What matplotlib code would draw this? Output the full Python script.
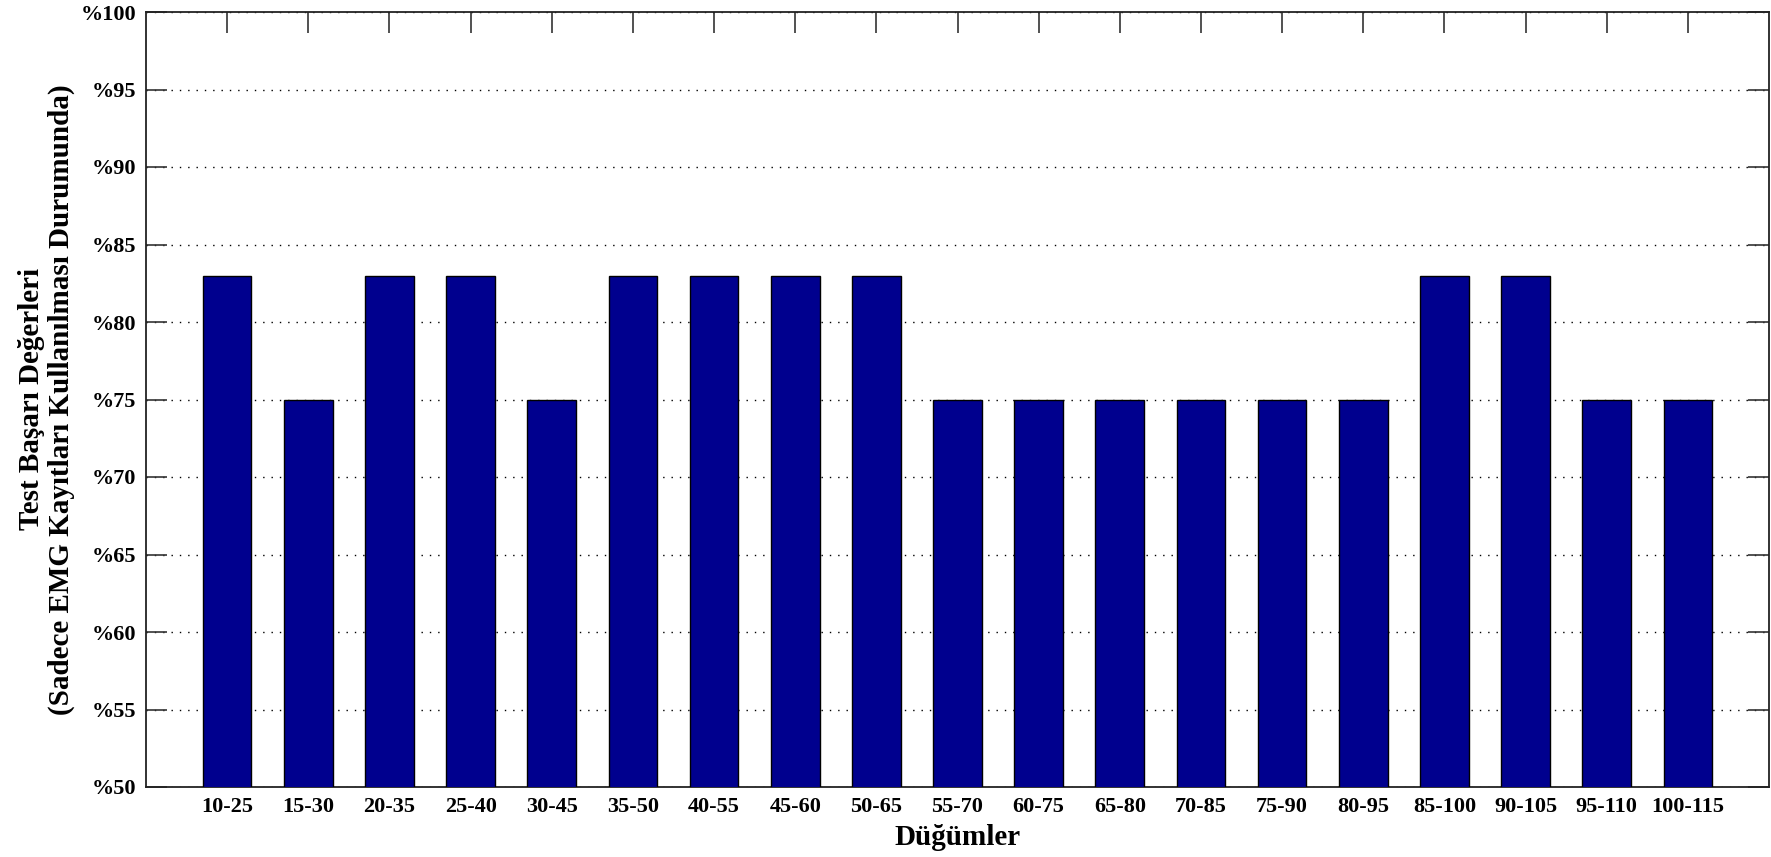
import matplotlib
matplotlib.use("Agg")
import matplotlib.pyplot as plt

categories = ["10-25", "15-30", "20-35", "25-40", "30-45", "35-50", "40-55",
              "45-60", "50-65", "55-70", "60-75", "65-80", "70-85", "75-90",
              "80-95", "85-100", "90-105", "95-110", "100-115"]
success = [83, 75, 83, 83, 75, 83, 83, 83, 83, 75, 75, 75, 75, 75, 75, 83, 83, 75, 75]
y_ticks = [50, 55, 60, 65, 70, 75, 80, 85, 90, 95, 100]

plt.rcParams['font.family'] = ['Liberation Serif', 'DejaVu Serif']
plt.rcParams['font.weight'] = 'bold'

fig = plt.figure(figsize=(17.71, 8.57), dpi=100)
ax = fig.add_axes([146/1771, 1 - 787/857, (1769-146)/1771, (787-12)/857])

x = list(range(1, len(categories) + 1))
ax.bar(x, success, width=0.6, bottom=0, color='#00008E', edgecolor='black',
       linewidth=1.0, zorder=3)

ax.set_xlim(0, len(categories) + 1)
ax.set_ylim(50, 100)
ax.set_xticks(x)
ax.set_xticklabels(categories, fontsize=16, fontweight='bold')
ax.set_yticks(y_ticks)
ax.set_yticklabels(["%" + str(v) for v in y_ticks], fontsize=16, fontweight='bold')

ax.yaxis.grid(True, linestyle=(0, (1, 5)), color='black', linewidth=1.0, zorder=0)
ax.tick_params(axis='both', direction='in', length=15, width=1.2, color='#333333',
               top=True, right=True, pad=7)
for s in ax.spines.values():
    s.set_linewidth(1.3)
    s.set_color('#222222')

ax.set_xlabel("Düğümler", fontsize=21, fontweight='bold', labelpad=5)
ax.set_ylabel("Test Başarı Değerleri\n(Sadece EMG Kayıtları Kullanılması Durumunda)",
              fontsize=21, fontweight='bold', labelpad=4, linespacing=1.15)

fig.savefig("out.png", dpi=100, facecolor='white')
